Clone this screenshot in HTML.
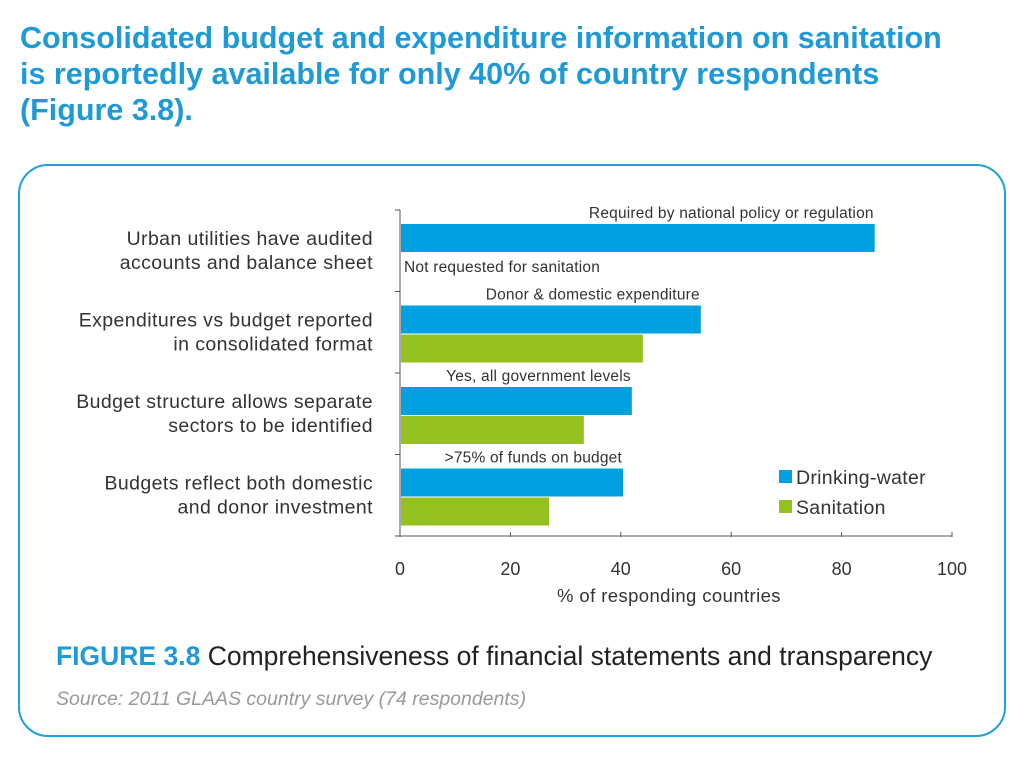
<!DOCTYPE html>
<html><head><meta charset="utf-8"><style>
body{margin:0;width:1024px;height:768px;background:#fff;overflow:hidden;font-family:"Liberation Sans",sans-serif}
#title{position:absolute;left:20px;top:20px;margin:0;font-size:30.5px;line-height:36px;font-weight:bold;color:#1e9ad6;white-space:nowrap}
#frame{position:absolute;left:18px;top:164px;width:988px;height:573px;border:2px solid #1ea0dc;border-radius:30px;box-sizing:border-box}
svg{position:absolute;left:0;top:0}
</style></head><body>
<h1 id="title">Consolidated budget and expenditure information on sanitation<br>is reportedly available for only 40% of country respondents<br>(Figure 3.8).</h1>
<div id="frame"></div>
<svg id="chart" width="1024" height="768"></svg>
<script>
const categories=[["Urban utilities have audited","accounts and balance sheet"],["Expenditures vs budget reported","in consolidated format"],["Budget structure allows separate","sectors to be identified"],["Budgets reflect both domestic","and donor investment"]];
const waterValues=[86,54.5,42,40.4];
const sanitationValues=[null,44,33.3,27];
const annotations=["Required by national policy or regulation","Donor & domestic expenditure","Yes, all government levels",">75% of funds on budget"];
const xTicks=[0,20,40,60,80,100];
const NS="http://www.w3.org/2000/svg";
const svg=document.getElementById('chart');
const x0=400,x1=952,yTop=210,yBot=536;
const xs=v=>x0+(v/100)*(x1-x0);
const bandH=(yBot-yTop)/categories.length;
function el(t,a,txt){const e=document.createElementNS(NS,t);for(const k in a)e.setAttribute(k,a[k]);if(txt!=null)e.textContent=txt;svg.appendChild(e);return e;}
const ax=el('line',{x1:x0,y1:yTop,x2:x0,y2:yBot,stroke:'#555','stroke-width':1});


const bx=el('line',{x1:x0,y1:yBot,x2:x1,y2:yBot,stroke:'#555','stroke-width':1});


for(let i=0;i<=categories.length;i++){
  const t=el('line',{x1:x0-5,y1:yTop+i*bandH,x2:x0,y2:yTop+i*bandH,stroke:'#555'});
  
  
}
xTicks.forEach(v=>{
  const t=el('line',{x1:xs(v),y1:yBot-4,x2:xs(v),y2:yBot+1,stroke:'#555'});
  
  
  const l=el('text',{x:xs(v),y:575,'text-anchor':'middle','font-size':18,fill:'#333'},String(v));
  
  
});
const xt=el('text',{x:669,y:602,'text-anchor':'middle','font-size':18.5,'letter-spacing':0.4,fill:'#333'},'% of responding countries');


categories.forEach((c,i)=>{
  const by=yTop+i*bandH;
  const wy=by+14, h=28;
  const wb=el('rect',{x:x0+1,y:wy,width:xs(waterValues[i])-x0-1,height:h,fill:'#00a1e0'});
  
  
  if(sanitationValues[i]!=null){
    const sb=el('rect',{x:x0+1,y:wy+h+1,width:xs(sanitationValues[i])-x0-1,height:h,fill:'#95c11f'});
    
    
  } else {
    const n=el('text',{x:x0+4,y:wy+h+20,'font-size':15.5,'letter-spacing':0.2,fill:'#333'},'Not requested for sanitation');
    
    
  }
  const a=el('text',{x:xs(waterValues[i])-1,y:wy-6,'text-anchor':'end','font-size':15.5,'letter-spacing':0.2,fill:'#333'},annotations[i]);
  
  
  c.forEach((line,j)=>{
    const t=el('text',{x:373,y:by+35+j*24,'text-anchor':'end','font-size':19.5,'letter-spacing':0.4,fill:'#333'},line);
    
    
  });
});
[['Drinking-water','#00a1e0',470],['Sanitation','#95c11f',500]].forEach(([n,c,y])=>{
  const s=el('rect',{x:779,y:y,width:13,height:13,fill:c});
  
  
  const t=el('text',{x:796,y:y+14,'font-size':19.5,'letter-spacing':0.3,fill:'#333'},n);
  
  
});
</script>
<div style="position:absolute;left:56px;top:641px;font-size:26.5px;color:#222;white-space:nowrap"><b style="color:#1e9ad6">FIGURE 3.8</b> Comprehensiveness of financial statements and transparency</div>
<div style="position:absolute;left:56px;top:688px;font-size:19.5px;font-style:italic;color:#999;white-space:nowrap">Source: 2011 GLAAS country survey (74 respondents)</div>
</body></html>
